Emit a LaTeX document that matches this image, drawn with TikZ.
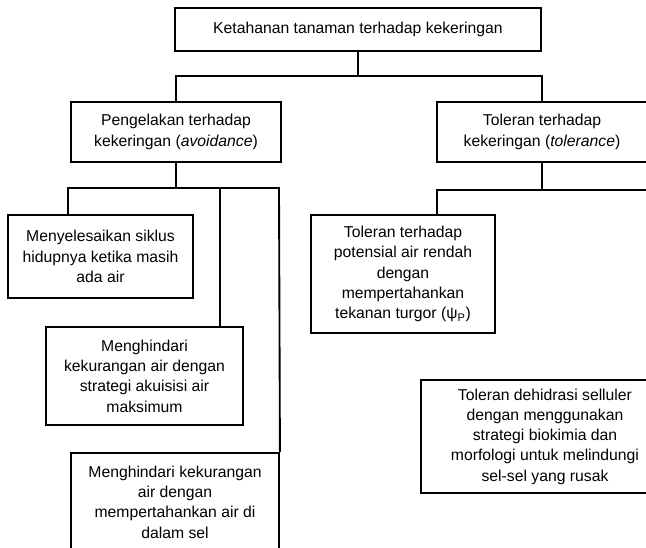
\documentclass[tikz,border=0pt]{standalone}
\usepackage{fontspec}
\setmainfont{Liberation Sans}
\tikzset{
  treebox/.style={draw=black,line width=1.4pt,fill=white,align=center,inner sep=0pt,
    font=\fontsize{11.8}{15.2}\selectfont},
  treeline/.style={line width=1.4pt},
}

\begin{document}
\begin{tikzpicture}[x=0.75pt,y=-0.75pt]
\path[use as bounding box] (0,0) rectangle (646,547);
\fill[white] (0,0) rectangle (646,547);
\clip (0,0) rectangle (646,547);
\coordinate (jtop) at (358,76);
\coordinate (javoid) at (176,188);
\coordinate (jtoler) at (542,190);
\coordinate (d1) at (68,188);
\coordinate (d2) at (220,188);
\coordinate (d3) at (279,188);
\coordinate (e1) at (437,190);
\coordinate (e2) at (660,190);
\node[treebox,minimum width=274.5pt,minimum height=32.25pt] (root) at (358,29.5) {Ketahanan tanaman terhadap kekeringan};
\node[treebox,minimum width=157.5pt,minimum height=45pt] (avoid) at (176,132) {Pengelakan terhadap\\kekeringan (\textit{avoidance})};
\node[treebox,minimum width=157.5pt,minimum height=45pt] (toler) at (542,132) {Toleran terhadap\\kekeringan (\textit{tolerance})};
\node[treebox,minimum width=138.75pt,minimum height=62.25pt] (cycle) at (100.5,256.5) {Menyelesaikan siklus\\hidupnya ketika masih\\ada air};
\node[treebox,minimum width=147.75pt,minimum height=73.5pt] (acquire) at (144.5,376) {Menghindari\\kekurangan air dengan\\strategi akuisisi air\\maksimum};
\node[treebox,minimum width=156pt,minimum height=73.5pt] (retain) at (175,502) {Menghindari kekurangan\\air dengan\\mempertahankan air di\\dalam sel};
\node[treebox,minimum width=138pt,minimum height=88.5pt] (turgor) at (403,274) {Toleran terhadap\\potensial air rendah\\dengan\\mempertahankan\\tekanan turgor (ψ\textsubscript{P})};
\node[treebox,minimum width=186pt,minimum height=84.75pt] (dehyd) at (545,436.5) {Toleran dehidrasi selluler\\dengan menggunakan\\strategi biokimia dan\\morfologi untuk melindungi\\sel-sel yang rusak};
\draw[treeline] (root.south) -- (jtop);
\draw[treeline] (avoid.north) |- (jtop) -| (toler.north);
\draw[treeline] (avoid.south) -- (javoid);
\draw[treeline] (d1 |- cycle.north) |- (d3) -- (retain.north east);
\draw[treeline] (d2) -- (d2 |- acquire.north);
\draw[treeline] (toler.south) -- (jtoler);
\draw[treeline] (e1 |- turgor.north) |- (e2) -- (e2 |- dehyd.north);
\end{tikzpicture}
\end{document}
